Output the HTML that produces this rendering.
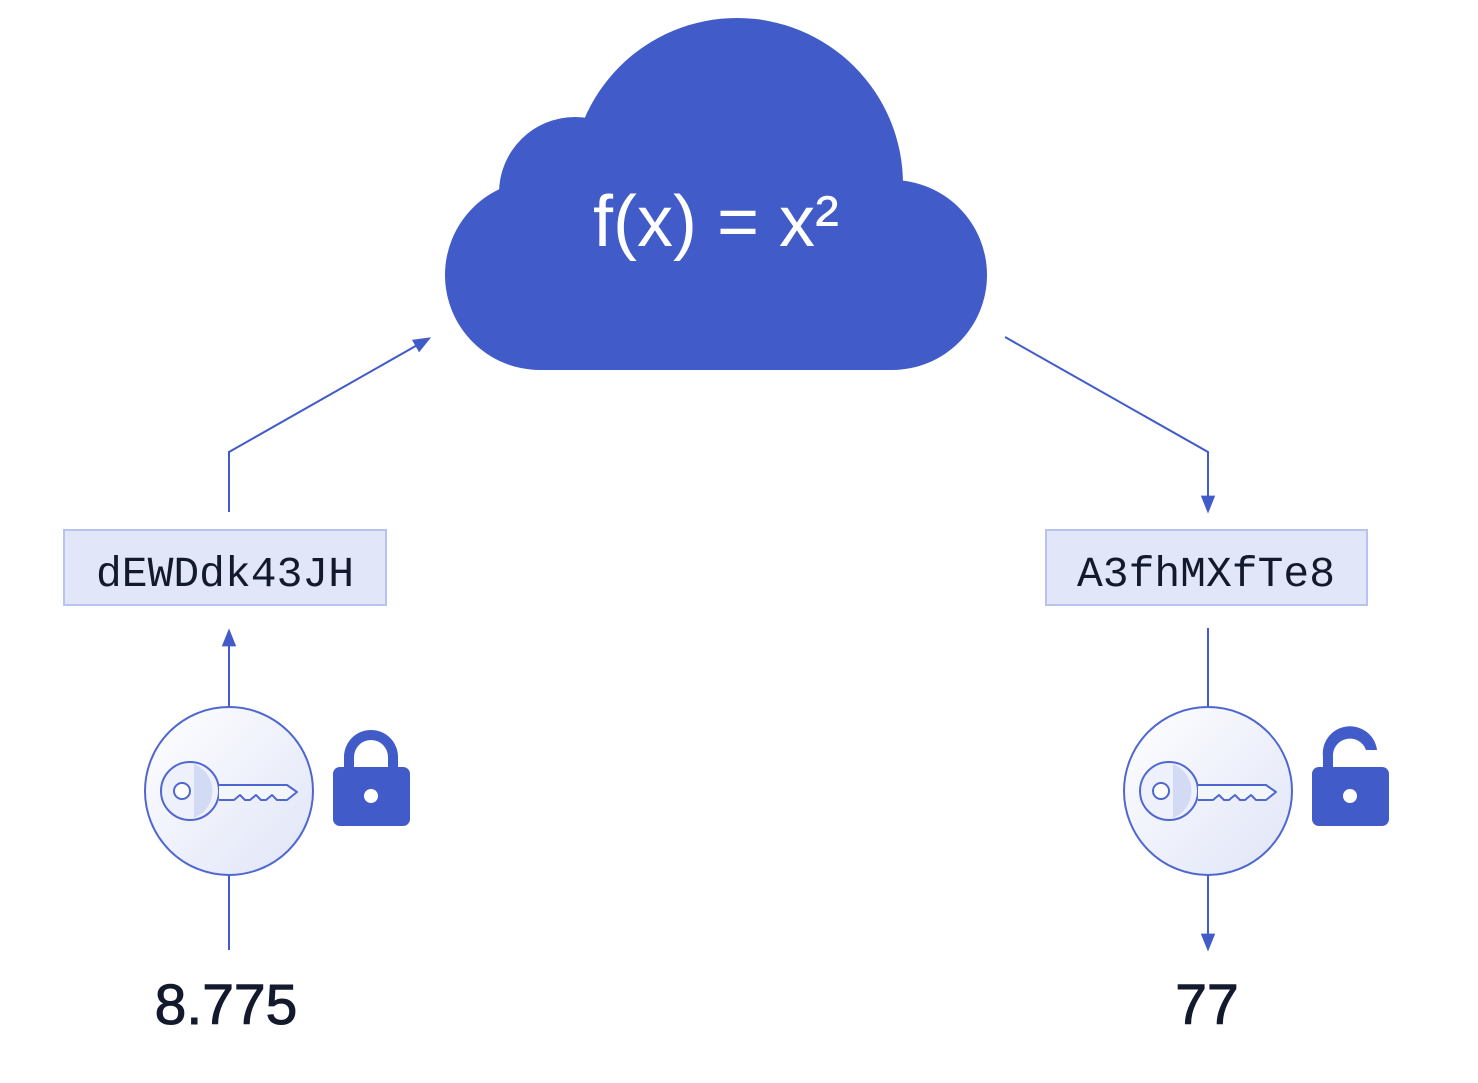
<!DOCTYPE html>
<html><head><meta charset="utf-8"><style>html,body{margin:0;padding:0;background:#fff}</style></head>
<body>
<svg width="1478" height="1078" viewBox="0 0 1478 1078" xmlns="http://www.w3.org/2000/svg">
<defs>
<linearGradient id="g" x1="0" y1="0" x2="1" y2="1"><stop offset="0" stop-color="#ffffff"/><stop offset="1" stop-color="#dfe4f7"/></linearGradient>
<marker id="ah" viewBox="0 0 10 10" refX="8" refY="5" markerWidth="18" markerHeight="18" orient="auto" markerUnits="userSpaceOnUse"><path d="M0,1 L10,5 L0,9 z" fill="#415BC8"/></marker>
<g id="key">
<circle cx="0" cy="0" r="84" fill="url(#g)" stroke="#4F68CF" stroke-width="2"/>
<circle cx="-39" cy="0" r="29" fill="#eef1fb" stroke="#4F68CF" stroke-width="2"/>
<path d="M-35,-27 A29,29 0 0 1 -35,27 Z" fill="#d3daf3"/>
<circle cx="-47" cy="0" r="8" fill="#fff" stroke="#4F68CF" stroke-width="2"/>
<path d="M-10,-6 L58,-6 L68,1 L58,9 L48,9 L43,4 L37,9 L32,9 L27,4 L21,9 L16,9 L11,4 L5,9 L-10,9" fill="#f4f6fd" stroke="#4F68CF" stroke-width="2" stroke-linejoin="round"/>
</g>
</defs>
<g fill="#415BC8">
<circle cx="540" cy="275" r="95"/>
<circle cx="892" cy="275" r="95"/>
<circle cx="737" cy="184" r="166"/>
<circle cx="575" cy="193" r="76"/>
<rect x="540" y="200" width="352" height="170"/>
</g>
<text x="716" y="246" fill="#fff" font-family="Liberation Sans, sans-serif" font-size="72" text-anchor="middle">f(x) = x²</text>
<g stroke="#415BC8" stroke-width="2" fill="none">
<polyline points="229,512 229,452 428,339" marker-end="url(#ah)"/>
<polyline points="1005,337 1208,452 1208,510" marker-end="url(#ah)"/>
<line x1="229" y1="707" x2="229" y2="632" marker-end="url(#ah)"/>
<line x1="229" y1="875" x2="229" y2="950"/>
<line x1="1208" y1="628" x2="1208" y2="707"/>
<line x1="1208" y1="875" x2="1208" y2="948" marker-end="url(#ah)"/>
</g>
<rect x="64" y="530" width="322" height="75" fill="#E1E6F8" stroke="#B8C3EE" stroke-width="2"/>
<rect x="1046" y="530" width="321" height="75" fill="#E1E6F8" stroke="#B8C3EE" stroke-width="2"/>
<text x="225" y="586" font-family="Liberation Mono, monospace" font-size="43" fill="#141A2E" text-anchor="middle">dEWDdk43JH</text>
<text x="1206" y="586" font-family="Liberation Mono, monospace" font-size="43" fill="#141A2E" text-anchor="middle">A3fhMXfTe8</text>
<use href="#key" x="229" y="791"/>
<use href="#key" x="1208" y="791"/>
<g fill="#415BC8">
<rect x="333" y="767" width="77" height="59" rx="7"/>
<path d="M344,770 L344,757 A27,27 0 0 1 398,757 L398,770 L388,770 L388,757 A17,17 0 0 0 354,757 L354,770 Z"/>
<rect x="1312" y="767" width="77" height="59" rx="7"/>
<path d="M1323,770 L1323,757 A27,27 0 0 1 1377,750 L1366,750 A17,17 0 0 0 1333,757 L1333,770 Z"/>
</g>
<circle cx="371" cy="796" r="7" fill="#fff"/>
<circle cx="1350" cy="796" r="7" fill="#fff"/>
<text x="226" y="1024" font-family="Liberation Sans, sans-serif" font-size="57" fill="#141A2E" stroke="#141A2E" stroke-width="1" text-anchor="middle">8.775</text>
<text x="1207" y="1024" font-family="Liberation Sans, sans-serif" font-size="57" fill="#141A2E" stroke="#141A2E" stroke-width="1" text-anchor="middle">77</text>
</svg>
</body></html>
